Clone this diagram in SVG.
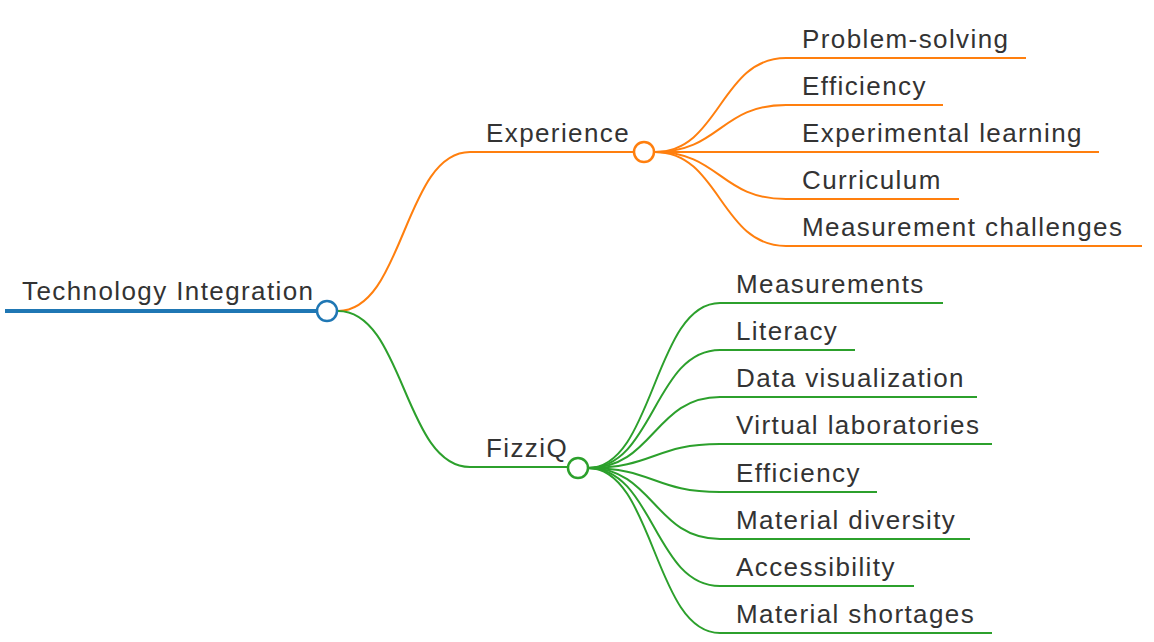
<svg xmlns="http://www.w3.org/2000/svg" width="1154" height="642" viewBox="0 0 1154 642">
<style>
text{font-family:"Liberation Sans",Arial,sans-serif;font-size:26px;fill:#333;letter-spacing:1.4px}
.o{stroke:#ff7f0e;fill:none;stroke-width:2}
.g{stroke:#2ca02c;fill:none;stroke-width:2}
.b{stroke:#1f77b4;fill:none}
.nc{fill:#fff;stroke-width:2.5}
</style>
<rect width="1154" height="642" fill="#fff"/>
<g id="connectors">
<path class="o" d="M338,311 C404,311 404,152 470,152"/>
<path class="g" d="M338,311 C404,311 404,467 470,467"/>
<path class="o" d="M655,152 C720,152 720,58 786,58"/>
<path class="o" d="M655,152 C720,152 720,105 786,105"/>
<path class="o" d="M655,152 L786,152"/>
<path class="o" d="M655,152 C720,152 720,199 786,199"/>
<path class="o" d="M655,152 C720,152 720,246 786,246"/>
<path class="g" d="M588,468 C654,468 654,303 720,303"/>
<path class="g" d="M588,468 C654,468 654,350 720,350"/>
<path class="g" d="M588,468 C654,468 654,397 720,397"/>
<path class="g" d="M588,468 C654,468 654,444 720,444"/>
<path class="g" d="M588,468 C654,468 654,492 720,492"/>
<path class="g" d="M588,468 C654,468 654,539 720,539"/>
<path class="g" d="M588,468 C654,468 654,586 720,586"/>
<path class="g" d="M588,468 C654,468 654,633 720,633"/>
</g>
<g id="root">
<path class="b" stroke-width="4" d="M5,311 L317,311"/>
<text x="22" y="300">Technology Integration</text>
<circle class="b nc" cx="327" cy="311" r="10"/>
</g>
<g id="experience">
<path class="o" d="M470,152 L634,152"/>
<text x="486" y="142">Experience</text>
<circle class="o nc" cx="644" cy="152" r="10"/>
</g>
<g id="fizziq">
<path class="g" d="M470,467 L568,467"/>
<text x="486" y="457">FizziQ</text>
<circle class="g nc" cx="578" cy="468" r="10"/>
</g>
<g id="e1"><path class="o" d="M786,58 L1026,58"/><text x="802" y="48">Problem-solving</text></g>
<g id="e2"><path class="o" d="M786,105 L943,105"/><text x="802" y="95">Efficiency</text></g>
<g id="e3"><path class="o" d="M786,152 L1099,152"/><text x="802" y="142">Experimental learning</text></g>
<g id="e4"><path class="o" d="M786,199 L959,199"/><text x="802" y="189">Curriculum</text></g>
<g id="e5"><path class="o" d="M786,246 L1142,246"/><text x="802" y="236">Measurement challenges</text></g>
<g id="f1"><path class="g" d="M720,303 L943,303"/><text x="736" y="293">Measurements</text></g>
<g id="f2"><path class="g" d="M720,350 L855,350"/><text x="736" y="340">Literacy</text></g>
<g id="f3"><path class="g" d="M720,397 L977,397"/><text x="736" y="387">Data visualization</text></g>
<g id="f4"><path class="g" d="M720,444 L992,444"/><text x="736" y="434">Virtual laboratories</text></g>
<g id="f5"><path class="g" d="M720,492 L877,492"/><text x="736" y="482">Efficiency</text></g>
<g id="f6"><path class="g" d="M720,539 L970,539"/><text x="736" y="529">Material diversity</text></g>
<g id="f7"><path class="g" d="M720,586 L914,586"/><text x="736" y="576">Accessibility</text></g>
<g id="f8"><path class="g" d="M720,633 L992,633"/><text x="736" y="623">Material shortages</text></g>
</svg>
